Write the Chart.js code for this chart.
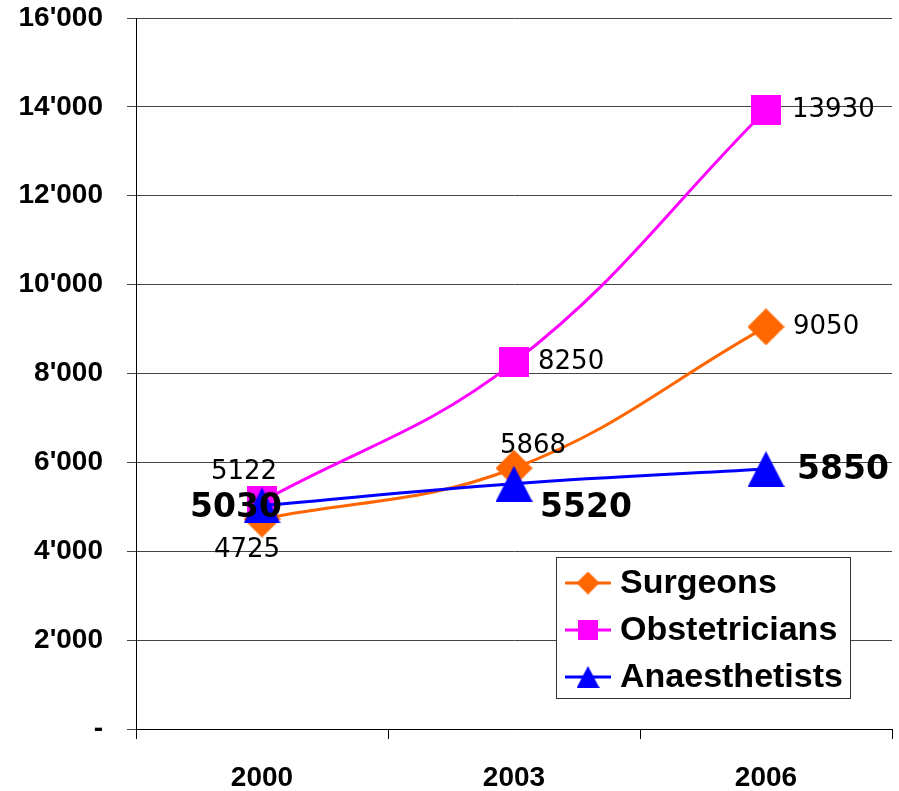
<!DOCTYPE html>
<html>
<head>
<meta charset="utf-8">
<script src="https://cdn.jsdelivr.net/npm/chart.js@4"></script>
<style>
  html, body { margin: 0; padding: 0; background: #fff; }
  #wrap { width: 899px; height: 791px; }
</style>
</head>
<body>
<div id="wrap"><canvas id="c" width="899" height="791"></canvas></div>
<script>
// Categories and series values
const years = ['2000', '2003', '2006'];
const surgeons = [4725, 5868, 9050];
const obstetricians = [5122, 8250, 13930];
const anaesthetists = [5030, 5520, 5850];

// Y axis range
const yMin = 0;
const yMax = 16000;
const yStep = 2000;

const ORANGE = '#FF6600';
const MAGENTA = '#FF00FF';
const BLUE = '#0000FF';

// Marker images, centred on their bounding box
function makeMarker(shape, color, w, h) {
  const cv = document.createElement('canvas');
  cv.width = w; cv.height = h;
  const g = cv.getContext('2d');
  g.fillStyle = color;
  g.beginPath();
  if (shape === 'diamond') {
    g.moveTo(w / 2, 0); g.lineTo(w, h / 2); g.lineTo(w / 2, h); g.lineTo(0, h / 2);
  } else if (shape === 'triangle') {
    g.moveTo(w / 2, 0); g.lineTo(w, h); g.lineTo(0, h);
  } else {
    g.rect(0, 0, w, h);
  }
  g.closePath();
  g.fill();
  return cv;
}

const markers = {
  surgeons: makeMarker('diamond', ORANGE, 37, 37),
  obstetricians: makeMarker('square', MAGENTA, 30, 30),
  anaesthetists: makeMarker('triangle', BLUE, 37, 36)
};
const legendMarkers = {
  surgeons: makeMarker('diamond', ORANGE, 23, 23),
  obstetricians: makeMarker('square', MAGENTA, 20, 20),
  anaesthetists: makeMarker('triangle', BLUE, 23, 22)
};

// Value label placement per series: [dx, dy, align] for each point
const labelStyle = {
  surgeons: { font: '26px "DejaVu Sans"', place: [[-15, 31, 'center'], [19, -22, 'center'], [27, 0, 'left']] },
  obstetricians: { font: '26px "DejaVu Sans"', place: [[-18, -29, 'center'], [24, 0, 'left'], [26, 0, 'left']] },
  anaesthetists: { font: 'bold 33px "DejaVu Sans"', place: [[-26, 3, 'center'], [72, 25, 'center'], [31, 1, 'left']] }
};

const valueLabels = {
  id: 'valueLabels',
  afterDatasetsDraw(chart) {
    const ctx = chart.ctx;
    ctx.save();
    chart.data.datasets.forEach((ds, i) => {
      const meta = chart.getDatasetMeta(i);
      const st = labelStyle[ds.key];
      ctx.font = st.font;
      ctx.fillStyle = '#000';
      ctx.textBaseline = 'middle';
      meta.data.forEach((pt, j) => {
        const [dx, dy, align] = st.place[j];
        ctx.textAlign = align;
        ctx.fillText(String(ds.data[j]), pt.x + dx, pt.y + dy);
      });
    });
    ctx.restore();
  }
};

// Boxed legend inside the plot area
const boxLegend = {
  id: 'boxLegend',
  afterDraw(chart) {
    const ctx = chart.ctx;
    const x0 = 556, y0 = 557, w = 294, h = 141;
    ctx.save();
    ctx.fillStyle = '#fff';
    ctx.fillRect(x0, y0, w, h);
    ctx.strokeStyle = '#333';
    ctx.lineWidth = 1;
    ctx.strokeRect(x0 + 0.5, y0 + 0.5, w, h);
    ctx.font = 'bold 34px "Liberation Sans", Arial, sans-serif';
    ctx.textBaseline = 'middle';
    ctx.textAlign = 'left';
    chart.data.datasets.forEach((ds, i) => {
      const y = y0 + 26 + i * 47;
      ctx.strokeStyle = ds.borderColor;
      ctx.lineWidth = 3;
      ctx.beginPath();
      ctx.moveTo(565, y);
      ctx.lineTo(611, y);
      ctx.stroke();
      const m = legendMarkers[ds.key];
      ctx.drawImage(m, 588 - m.width / 2, y - m.height / 2);
      ctx.fillStyle = '#000';
      ctx.fillText(ds.label, 620, y + 1);
    });
    ctx.restore();
  }
};

const axisFont = { family: '"Liberation Sans", Arial, sans-serif', size: 28, weight: 'bold' };

function noPadding(scale) {
  scale.paddingLeft = 0; scale.paddingRight = 0;
  scale.paddingTop = 0; scale.paddingBottom = 0;
}

new Chart(document.getElementById('c'), {
  type: 'line',
  data: {
    labels: years,
    datasets: [
      { key: 'surgeons', label: 'Surgeons', data: surgeons, borderColor: ORANGE, backgroundColor: ORANGE,
        pointStyle: markers.surgeons, order: 2 },
      { key: 'obstetricians', label: 'Obstetricians', data: obstetricians, borderColor: MAGENTA, backgroundColor: MAGENTA,
        pointStyle: markers.obstetricians, order: 1 },
      { key: 'anaesthetists', label: 'Anaesthetists', data: anaesthetists, borderColor: BLUE, backgroundColor: BLUE,
        pointStyle: markers.anaesthetists, order: 0 }
    ]
  },
  options: {
    responsive: false,
    animation: false,
    devicePixelRatio: 1,
    layout: { autoPadding: false, padding: { left: 0, top: 18, right: 7, bottom: 0 } },
    elements: {
      line: { borderWidth: 3, tension: 0.4, fill: false },
      point: { radius: 10, hoverRadius: 10 }
    },
    plugins: {
      legend: { display: false },
      tooltip: { enabled: false }
    },
    scales: {
      x: {
        offset: true,
        grid: {
          offset: true,
          drawOnChartArea: true,
          color: (c) => (c.index === years.length ? '#555' : 'rgba(0,0,0,0)'),
          tickColor: '#000',
          tickLength: 10,
          lineWidth: 1
        },
        border: { color: '#000', width: 1 },
        ticks: { font: axisFont, color: '#000', padding: 22, maxRotation: 0 },
        afterFit(scale) {
          scale.height = 62;
          noPadding(scale);
        }
      },
      y: {
        min: yMin,
        max: yMax,
        grid: { color: '#444', tickColor: '#444', tickLength: 9, lineWidth: 1 },
        border: { color: '#000', width: 1 },
        ticks: {
          stepSize: yStep,
          font: axisFont,
          color: '#000',
          padding: 24,
          callback: (v) => (v === 0 ? '-' : String(v).replace(/\B(?=(\d{3})+(?!\d))/g, "'"))
        },
        afterFit(scale) {
          scale.width = 136;
          noPadding(scale);
        }
      }
    }
  },
  plugins: [valueLabels, boxLegend]
});
</script>
</body>
</html>
